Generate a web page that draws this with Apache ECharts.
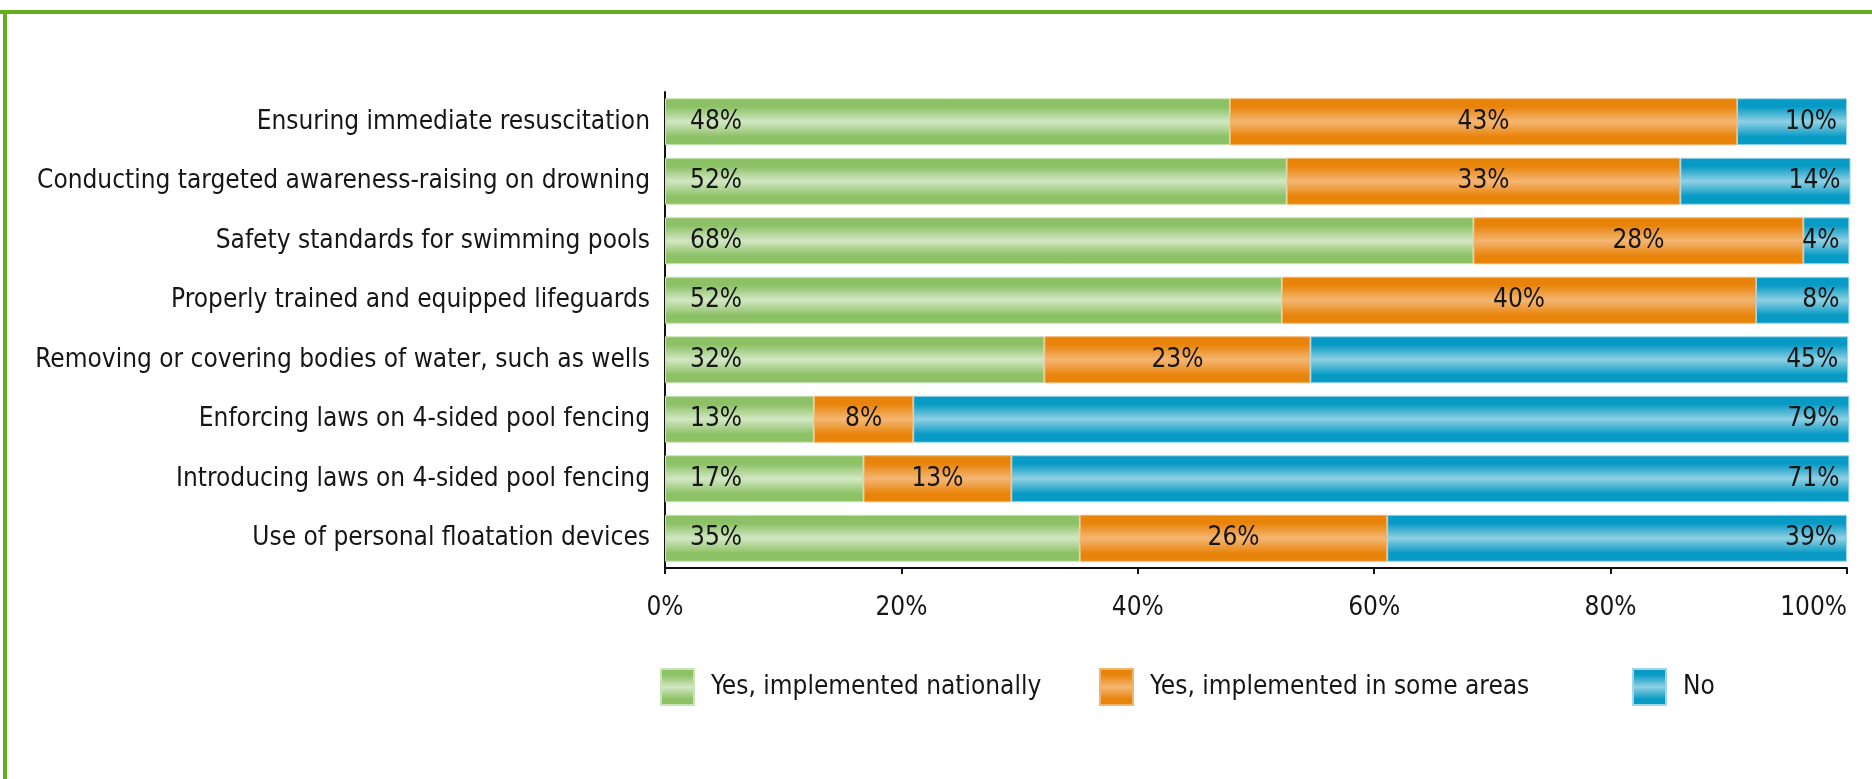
<!DOCTYPE html>
<html>
<head>
<meta charset="utf-8">
<title>Drowning prevention measures</title>
<script src="https://cdn.jsdelivr.net/npm/echarts@6/dist/echarts.min.js"></script>
<style>
  html, body { margin: 0; padding: 0; background: #fff; }
  #chart { width: 1872px; height: 779px; }
</style>
</head>
<body>
<div id="chart"></div>
<script>
// categories, top to bottom
var categories = [
  "Ensuring immediate resuscitation",
  "Conducting targeted awareness-raising on drowning",
  "Safety standards for swimming pools",
  "Properly trained and equipped lifeguards",
  "Removing or covering bodies of water, such as wells",
  "Enforcing laws on 4-sided pool fencing",
  "Introducing laws on 4-sided pool fencing",
  "Use of personal floatation devices"
];

// bar lengths (percent of countries)
var nationally = [47.8, 52.6, 68.4, 52.2, 32.1, 12.6, 16.8, 35.1];
var someAreas  = [42.9, 33.3, 27.9, 40.1, 22.5, 8.4, 12.5, 26.0];
var noValues   = [9.3, 14.4, 3.9, 7.9, 45.5, 79.2, 70.9, 38.9];

// printed labels
var nationallyText = ["48%", "52%", "68%", "52%", "32%", "13%", "17%", "35%"];
var someAreasText  = ["43%", "33%", "28%", "40%", "23%", "8%", "13%", "26%"];
var noText         = ["10%", "14%", "4%", "8%", "45%", "79%", "71%", "39%"];

var xTicks = [0, 20, 40, 60, 80, 100];

var FONT = "'DejaVu Sans Condensed', 'Liberation Sans Narrow', 'Liberation Sans', sans-serif";

// bars are shaded darker at top and bottom, lighter in the middle
function band(dark, light) {
  return new echarts.graphic.LinearGradient(0, 0, 0, 1, [
    { offset: 0, color: dark },
    { offset: 0.18, color: dark },
    { offset: 0.5, color: light },
    { offset: 0.82, color: dark },
    { offset: 1, color: dark }
  ]);
}

var chart = echarts.init(document.getElementById("chart"));

function makeSeries(name, values, texts, dark, light, edge, labelPos, dist) {
  return {
    name: name,
    type: "bar",
    stack: "total",
    barWidth: 47,
    clip: false,
    data: values,
    itemStyle: {
      color: band(dark, light),
      borderColor: edge,
      borderWidth: 1
    },
    label: {
      show: true,
      position: labelPos,
      distance: dist,
      color: "#161616",
      fontFamily: FONT,
      fontSize: 26,
      formatter: function (p) { return texts[p.dataIndex]; }
    },
    emphasis: { disabled: true }
  };
}

var legendBase = {
  orient: "horizontal",
  top: 663,
  icon: "rect",
  itemWidth: 33,
  itemHeight: 36,
  textStyle: { fontFamily: FONT, fontSize: 26, color: "#161616", padding: [0, 0, 0, 12] }
};

var option = {
  animation: false,
  backgroundColor: "#ffffff",
  textStyle: { fontFamily: FONT },
  graphic: [
    { type: "rect", shape: { x: 0, y: 10, width: 1872, height: 4 }, style: { fill: "#63ad1f" } },
    { type: "rect", shape: { x: 3, y: 10, width: 4, height: 769 }, style: { fill: "#63ad1f" } }
  ],
  legend: [
    Object.assign({}, legendBase, { left: 655, data: ["Yes, implemented nationally"] }),
    Object.assign({}, legendBase, { left: 1094, data: ["Yes, implemented in some areas"] }),
    Object.assign({}, legendBase, { left: 1627, data: ["No"] })
  ],
  grid: { left: 665, right: 25, top: 92, bottom: 211 },
  xAxis: {
    type: "value",
    min: xTicks[0],
    max: xTicks[xTicks.length - 1],
    interval: 20,
    splitLine: { show: false },
    axisLine: { show: true, lineStyle: { color: "#111", width: 2 } },
    axisTick: { show: true, length: 6, lineStyle: { color: "#111", width: 2 } },
    axisLabel: {
      margin: 27,
      color: "#161616",
      fontFamily: FONT,
      fontSize: 26,
      alignMaxLabel: "right",
      formatter: function (v) { return v + "%"; }
    }
  },
  yAxis: {
    type: "category",
    inverse: true,
    data: categories,
    axisLine: { show: true, lineStyle: { color: "#111", width: 2 } },
    axisTick: { show: false },
    axisLabel: { margin: 15, color: "#161616", fontFamily: FONT, fontSize: 26 }
  },
  series: [
    makeSeries("Yes, implemented nationally", nationally, nationallyText, "#8cc166", "#d2e7c3", "#c9e3b6", "insideLeft", 25),
    makeSeries("Yes, implemented in some areas", someAreas, someAreasText, "#e9840b", "#f4b673", "#f2b46a", "inside", 0),
    makeSeries("No", noValues, noText, "#079ac4", "#8fd0e3", "#9fd6ea", "insideRight", 10)
  ]
};

chart.setOption(option);
window.onresize = chart.resize;
</script>
</body>
</html>
